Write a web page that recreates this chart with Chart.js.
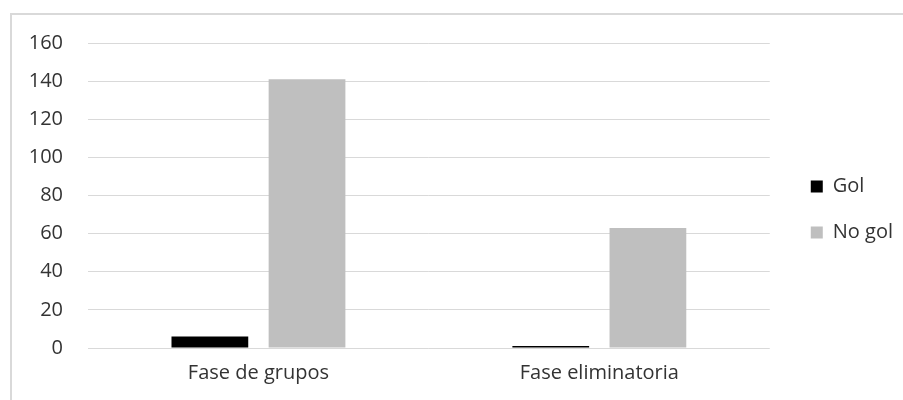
<!DOCTYPE html>
<html>
<head>
<meta charset="utf-8">
<script src="https://cdn.jsdelivr.net/npm/chart.js@4"></script>
<style>
  html, body { margin: 0; padding: 0; background: #fff; }
  #frame { position: absolute; left: 10px; top: 13px; width: 900px; height: 400px;
           border-left: 2px solid #d9d9d9; border-top: 2px solid #d9d9d9; }
  #wrap { position: absolute; left: 0; top: 0; width: 903px; height: 400px; }
</style>
</head>
<body>
<div id="frame"></div>
<div id="wrap"><canvas id="myChart"></canvas></div>
<script>
  const categories = ['Fase de grupos', 'Fase eliminatoria'];
  const golValues = [6, 1];
  const noGolValues = [141, 63];
  const seriesNames = ['Gol', 'No gol'];

  Chart.defaults.font.family = '"Open Sans", "Liberation Sans", sans-serif';
  Chart.defaults.font.size = 20;
  Chart.defaults.color = '#333333';

  // nudge the legend items to where Excel puts them
  const legendShift = {
    id: 'legendShift',
    afterLayout(chart) {
      const lg = chart.legend;
      lg.left += 15; lg.right += 15;
      lg.top -= 7; lg.bottom -= 7;
    }
  };

  const ctx = document.getElementById('myChart');
  new Chart(ctx, {
    type: 'bar',
    data: {
      labels: categories,
      datasets: [{
        label: seriesNames[0],
        data: golValues,
        backgroundColor: '#000000',
        categoryPercentage: 0.57,
        barPercentage: 0.79
      }, {
        label: seriesNames[1],
        data: noGolValues,
        backgroundColor: '#bfbfbf',
        categoryPercentage: 0.57,
        barPercentage: 0.79
      }]
    },
    options: {
      responsive: true,
      maintainAspectRatio: false,
      animation: false,
      layout: { padding: { top: 43, left: 10, right: 15, bottom: 10 } },
      plugins: {
        tooltip: { enabled: false },
        legend: {
          position: 'right',
          labels: { boxWidth: 12, boxHeight: 12, padding: 26 }
        }
      },
      scales: {
        x: {
          grid: { display: false },
          border: { display: false },
          ticks: { padding: 5 }
        },
        y: {
          min: 0,
          max: 160,
          ticks: { stepSize: 20, padding: 25 },
          grid: { color: '#d9d9d9', lineWidth: 1, drawTicks: false },
          border: { display: false },
          afterFit: function (s) { s.width = 78; }
        }
      }
    },
    plugins: [legendShift]
  });
</script>
</body>
</html>
